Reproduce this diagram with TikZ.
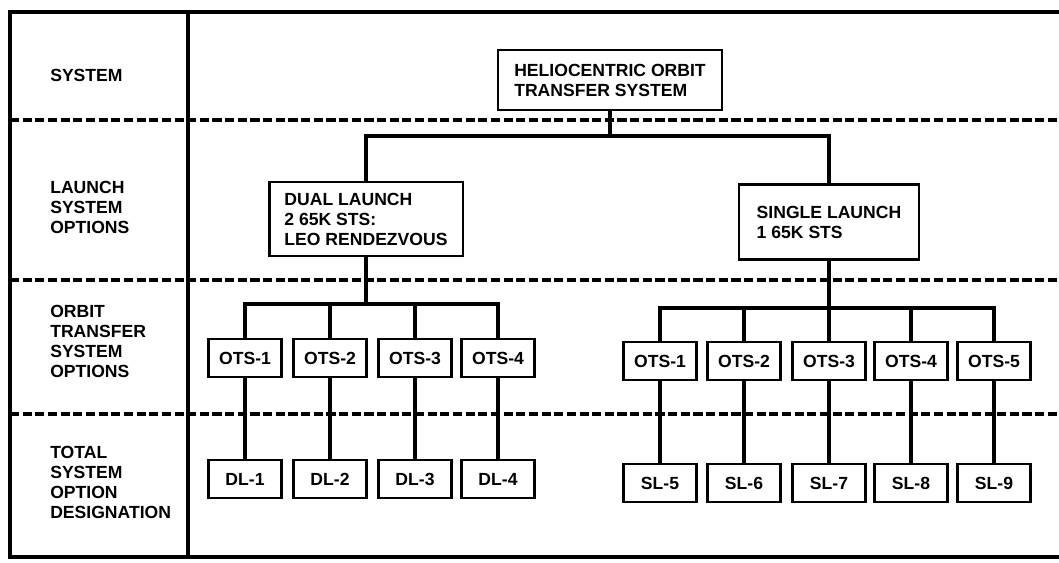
\documentclass[tikz,border=0pt]{standalone}
\usepackage{fontspec}
\setmainfont{Liberation Sans}

\begin{document}
\begin{tikzpicture}[x=0.025cm, y=-0.025cm,
    every node/.style={font=\fontsize{12.5}{14.2}\selectfont\bfseries},
    rowlabel/.style={anchor=west, align=left, inner sep=0pt},
    box/.style={draw, line width=1.6pt, align=left},
    optbox/.style={box, minimum width=1.825cm, minimum height=0.95cm, inner sep=0pt},
    frame/.style={line width=2.6pt},
    sep/.style={line width=2.2pt, dash pattern=on 6.5pt off 2.5pt},
    conn/.style={line width=2.6pt}]
  \useasboundingbox (0,0) rectangle (1059,563);

  \draw[frame] (1059,12) -- (10,12) -- (10,557) -- (1059,557);
  \draw[frame] (188,12) -- (188,557);
  \draw[sep] (10,120) -- (1059,120);
  \draw[sep] (10,280) -- (1059,280);
  \draw[sep] (10,414) -- (1059,414);

  \node[rowlabel] (lsys) at (50,75) {SYSTEM};
  \node[rowlabel] (llaunch) at (50,207) {LAUNCH\\SYSTEM\\OPTIONS};
  \node[rowlabel] (lorbit) at (50,341) {ORBIT\\TRANSFER\\SYSTEM\\OPTIONS};
  \node[rowlabel] (ltotal) at (50,482) {TOTAL\\SYSTEM\\OPTION\\DESIGNATION};

  \node[box, minimum width=5.6cm, minimum height=1.5cm] (helio) at (610,80)
    {HELIOCENTRIC ORBIT\\TRANSFER SYSTEM};
  \node[box, minimum width=4.83cm, minimum height=1.85cm] (dual) at (366,219)
    {DUAL LAUNCH\\2 65K STS:\\LEO RENDEZVOUS};
  \node[box, minimum width=4.5cm, minimum height=1.875cm] (single) at (829,222)
    {SINGLE LAUNCH\\1 65K STS};

  \draw[conn] (helio.south) -- ++(0,25) coordinate (hbar);
  \draw[conn] (dual.north) |- (hbar) -| (single.north);

  % dual launch
  \node[optbox] (d1) at (245,358) {OTS-1};
  \node[optbox] (d2) at (330,358) {OTS-2};
  \node[optbox] (d3) at (415,358) {OTS-3};
  \node[optbox] (d4) at (498,358) {OTS-4};
  \node[optbox] (dl1) at (245,479) {DL-1};
  \node[optbox] (dl2) at (330,479) {DL-2};
  \node[optbox] (dl3) at (415,479) {DL-3};
  \node[optbox] (dl4) at (498,479) {DL-4};

  \draw[conn] (dual.south) -- ++(0,47) coordinate (dbar);
  \draw[conn] (d1.north) |- (dbar) -| (d4.north);
  \draw[conn] (d2.north) -- (d2.north |- dbar);
  \draw[conn] (d3.north) -- (d3.north |- dbar);
  \draw[conn] (d1) -- (dl1);
  \draw[conn] (d2) -- (dl2);
  \draw[conn] (d3) -- (dl3);
  \draw[conn] (d4) -- (dl4);

  % single launch
  \node[optbox] (s1) at (660,361) {OTS-1};
  \node[optbox] (s2) at (744,361) {OTS-2};
  \node[optbox] (s3) at (829,361) {OTS-3};
  \node[optbox] (s4) at (911,361) {OTS-4};
  \node[optbox] (s5) at (994,361) {OTS-5};
  \node[optbox] (sl5) at (660,483) {SL-5};
  \node[optbox] (sl6) at (744,483) {SL-6};
  \node[optbox] (sl7) at (829,483) {SL-7};
  \node[optbox] (sl8) at (911,483) {SL-8};
  \node[optbox] (sl9) at (994,483) {SL-9};

  \draw[conn] (single.south) -- (s3.north);
  \coordinate (sbar) at (829,308);
  \draw[conn] (s1.north) |- (sbar) -| (s5.north);
  \draw[conn] (s2.north) -- (s2.north |- sbar);
  \draw[conn] (s4.north) -- (s4.north |- sbar);
  \draw[conn] (s1) -- (sl5);
  \draw[conn] (s2) -- (sl6);
  \draw[conn] (s3) -- (sl7);
  \draw[conn] (s4) -- (sl8);
  \draw[conn] (s5) -- (sl9);
\end{tikzpicture}
\end{document}
